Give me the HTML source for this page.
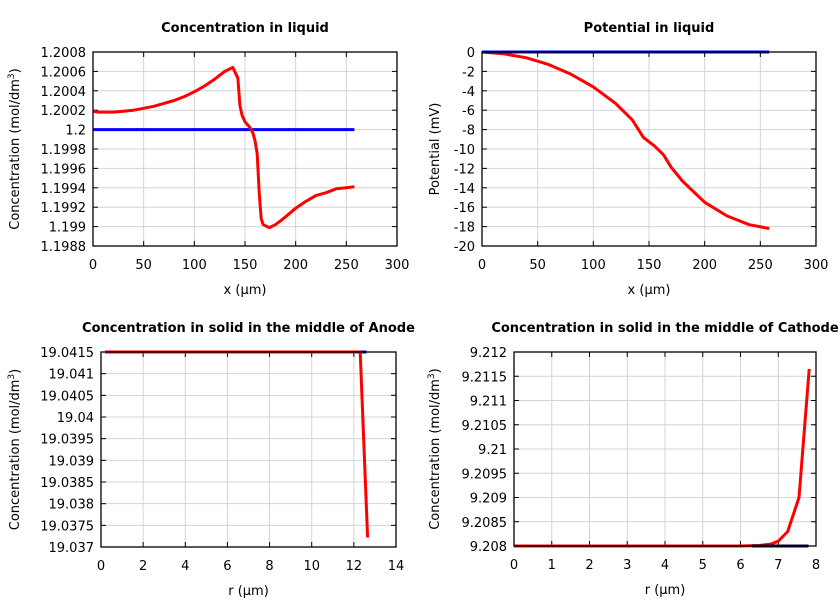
<!DOCTYPE html>
<html><head><meta charset="utf-8"><style>
body{margin:0;background:#fff;width:840px;height:600px;overflow:hidden}
svg{font-family:"DejaVu Sans","Liberation Sans",sans-serif}
</style></head><body>
<svg id="chart" width="840" height="600" xmlns="http://www.w3.org/2000/svg"></svg>
<script>
// Panel 1: concentration in liquid
const p1RedX=[0,5,20,30,40,50,60,70,80,90,100,110,120,130,138,143,145,147,150,155,158,160,162,164,166,168,174,180,185,190,200,210,220,230,240,250,258];
const p1RedY=[1.20019,1.20018,1.20018,1.20019,1.2002,1.20022,1.20024,1.20027,1.2003,1.20034,1.20039,1.20045,1.20052,1.2006,1.20064,1.20053,1.20025,1.20015,1.20008,1.20002,1.19996,1.19988,1.19975,1.19935,1.19908,1.19902,1.19899,1.19902,1.19906,1.1991,1.19919,1.19926,1.19932,1.19935,1.19939,1.1994,1.19941];
const p1BlueX=[0,258];
const p1BlueY=[1.2,1.2];
const p1YTicks=["1.1988","1.199","1.1992","1.1994","1.1996","1.1998","1.2","1.2002","1.2004","1.2006","1.2008"];
const p1XTicks=["0","50","100","150","200","250","300"];
// Panel 2: potential in liquid
const p2RedX=[0,20,40,60,80,100,120,135,145,155,163,170,180,200,220,240,258];
const p2RedY=[0,-0.2,-0.6,-1.3,-2.3,-3.6,-5.3,-7,-8.8,-9.7,-10.6,-11.9,-13.3,-15.5,-16.9,-17.8,-18.2];
const p2BlueX=[0,258];
const p2BlueY=[0,0];
const p2YTicks=["-20","-18","-16","-14","-12","-10","-8","-6","-4","-2","0"];
const p2XTicks=["0","50","100","150","200","250","300"];
// Panel 3: anode solid
const p3RedX=[0.2,12.3,12.65];
const p3RedY=[19.0415,19.0415,19.03722];
const p3BlueX=[0.2,12.6];
const p3BlueY=[19.0415,19.0415];
const p3YTicks=["19.037","19.0375","19.038","19.0385","19.039","19.0395","19.04","19.0405","19.041","19.0415"];
const p3XTicks=["0","2","4","6","8","10","12","14"];
// Panel 4: cathode solid
const p4RedX=[0,6,6.5,6.8,7,7.25,7.55,7.82];
const p4RedY=[9.208,9.208,9.20801,9.20804,9.2081,9.2083,9.209,9.21165];
const p4BlueX=[6.3,7.8];
const p4BlueY=[9.208,9.208];
const p4YTicks=["9.208","9.2085","9.209","9.2095","9.21","9.2105","9.211","9.2115","9.212"];
const p4XTicks=["0","1","2","3","4","5","6","7","8"];

const svg=document.getElementById('chart');
const NS="http://www.w3.org/2000/svg";
function mk(tag,attrs,parent){const e=document.createElementNS(NS,tag);for(const k in attrs)e.setAttribute(k,attrs[k]);(parent||svg).appendChild(e);return e;}

function panel(key,box,title,xLabel,yLabel,xTicks,yTicks,series){
  const g=mk('g',{});
  
  
  const xs=xTicks.map(Number), ys=yTicks.map(Number);
  const x0=xs[0],x1=xs[xs.length-1],y0=ys[0],y1=ys[ys.length-1];
  const sx=v=>box.l+(v-x0)/(x1-x0)*(box.r-box.l);
  const sy=v=>box.b-(v-y0)/(y1-y0)*(box.b-box.t);
  xs.forEach((v,i)=>{
    const gl=mk('line',{x1:sx(v),x2:sx(v),y1:box.t,y2:box.b,stroke:'#d4d4d4','stroke-width':1},g);
    
    
    mk('line',{x1:sx(v),x2:sx(v),y1:box.b,y2:box.b-5,stroke:'#000'},g);
    mk('line',{x1:sx(v),x2:sx(v),y1:box.t,y2:box.t+5,stroke:'#000'},g);
    const t=mk('text',{x:sx(v),y:box.b+23,'text-anchor':'middle','font-size':13},g);
    t.textContent=xTicks[i];
    
    
  });
  ys.forEach((v,i)=>{
    const gl=mk('line',{x1:box.l,x2:box.r,y1:sy(v),y2:sy(v),stroke:'#d4d4d4','stroke-width':1},g);
    
    
    mk('line',{x1:box.l,x2:box.l+5,y1:sy(v),y2:sy(v),stroke:'#000'},g);
    mk('line',{x1:box.r,x2:box.r-5,y1:sy(v),y2:sy(v),stroke:'#000'},g);
    const t=mk('text',{x:box.l-7,y:sy(v)+5,'text-anchor':'end','font-size':13},g);
    t.textContent=yTicks[i];
    
    
  });
  series.forEach(s=>{
    const pts=s.x.map((v,i)=>sx(v).toFixed(1)+','+sy(s.y[i]).toFixed(1)).join(' ');
    const pl=mk('polyline',{points:pts,fill:'none',stroke:s.c,'stroke-width':3,'stroke-linejoin':'round'},g);
    
    
  });
  const fr=mk('rect',{x:box.l,y:box.t,width:box.r-box.l,height:box.b-box.t,fill:'none',stroke:'#000','stroke-width':1.3},g);
  
  
  const tt=mk('text',{x:(box.l+box.r)/2,y:box.t-20,'text-anchor':'middle','font-size':13,'font-weight':'bold'},g);
  tt.textContent=title;
  
  
  const xl=mk('text',{x:(box.l+box.r)/2,y:box.b+48,'text-anchor':'middle','font-size':13},g);
  xl.textContent=xLabel;
  
  
  const cy=(box.t+box.b)/2, lx=box.yl;
  const yl=mk('text',{x:lx,y:cy,'text-anchor':'middle','font-size':13,transform:'rotate(-90 '+lx+' '+cy+')'},g);
  yl.innerHTML=yLabel;
  
  
}
const concLbl='Concentration (mol/dm<tspan baseline-shift="super" font-size="9">3</tspan>)';
panel('liquid-concentration',{l:93,r:397,t:52,b:246,yl:19},'Concentration in liquid','x (µm)',concLbl,p1XTicks,p1YTicks,
  [{x:p1BlueX,y:p1BlueY,c:'#0000ff',n:'blue-series'},{x:p1RedX,y:p1RedY,c:'#ff0000',n:'red-series'}]);
panel('liquid-potential',{l:482,r:816,t:52,b:246,yl:439},'Potential in liquid','x (µm)','Potential (mV)',p2XTicks,p2YTicks,
  [{x:p2RedX,y:p2RedY,c:'#ff0000',n:'red-series'},{x:p2BlueX,y:p2BlueY,c:'#0000ff',n:'blue-series'}]);
panel('anode-solid',{l:101,r:396,t:352,b:547,yl:19},'Concentration in solid in the middle of Anode','r (µm)',concLbl,p3XTicks,p3YTicks,
  [{x:p3BlueX,y:p3BlueY,c:'#0000ff',n:'blue-series'},{x:p3RedX,y:p3RedY,c:'#ff0000',n:'red-series'}]);
panel('cathode-solid',{l:514,r:816,t:352,b:546,yl:439},'Concentration in solid in the middle of Cathode','r (µm)',concLbl,p4XTicks,p4YTicks,
  [{x:p4RedX,y:p4RedY,c:'#ff0000',n:'red-series'},{x:p4BlueX,y:p4BlueY,c:'#000040',n:'blue-series'}]);
</script>
</body></html>
